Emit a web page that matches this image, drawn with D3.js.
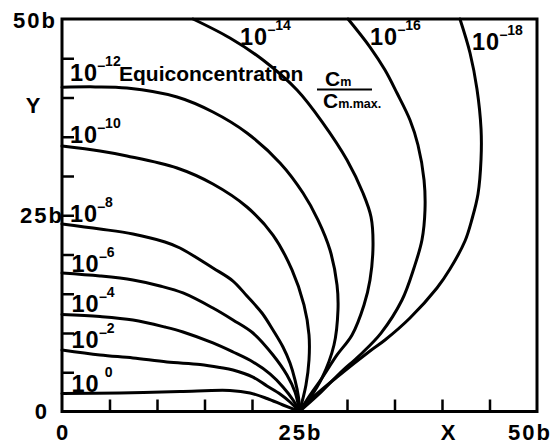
<!DOCTYPE html>
<html>
<head>
<meta charset="utf-8">
<script src="https://cdn.jsdelivr.net/npm/d3@7"></script>
<style>
  html, body { margin: 0; padding: 0; background: #fff; }
  svg { display: block; }
  text { font-family: "Liberation Sans", Arial, Helvetica, sans-serif; font-weight: bold; fill: #000; }
</style>
</head>
<body>
<svg id="chart" width="552" height="445"></svg>
<script>
// Equiconcentration lines Cm / Cm.max around a point source at (25b, 0).
// Coordinates are given in units of b: [X, Y].
const iso0   = [[0,2.29],[6.1,2.36],[12.42,2.55],[17.68,2.68],[19.79,2.36],[21.58,1.66],[23.26,0.83],[25,0]];
const isoM2  = [[0,7.83],[4.0,7.2],[7.47,6.82],[11.05,6.31],[14.53,5.99],[16.63,5.61],[18.0,5.29],[20.1,4.39],[21.58,3.25],[22.95,2.23],[24.0,1.21],[25,0]];
const isoM4  = [[0,12.36],[4.0,12.1],[7.47,11.66],[10.84,10.76],[12.74,10.13],[15.89,8.73],[18.0,7.58],[20.1,6.31],[21.89,4.78],[23.26,3.12],[24.32,1.46],[25,0]];
const isoM6  = [[0,17.64],[4.0,17.26],[7.47,16.75],[10.32,15.99],[12.74,15.1],[15.89,13.18],[18.0,11.66],[20.1,10.0],[22.21,7.2],[23.68,4.65],[24.53,2.48],[25,0]];
const isoM8  = [[0,23.89],[4.0,23.25],[7.47,22.61],[10.84,21.59],[12.42,20.83],[15.89,18.28],[18.0,16.62],[19.47,14.71],[21.05,12.55],[22.21,10.38],[23.26,8.22],[24.0,6.18],[24.53,4.01],[24.89,1.85],[25,0]];
const isoM10 = [[0,33.82],[4.0,33.18],[6.84,32.55],[12.11,31.02],[15.89,28.98],[19.47,26.05],[22.21,22.48],[24.21,18.03],[25.47,13.57],[26.0,9.75],[26.0,6.56],[25.68,3.38],[25,0]];
const isoM12 = [[0,41.3],[3.5,41.35],[6.84,41.2],[12.11,40.06],[15.89,38.15],[19.47,35.48],[22.95,31.66],[25.37,27.83],[26.95,24.39],[28.21,20.57],[28.95,16.11],[29.05,12.93],[28.63,8.47],[27.37,4.27],[26.11,1.72],[25,0]];
const isoM14 = [[13.79,50],[17.68,47.58],[21.16,44.78],[24.74,40.96],[27.47,36.75],[30.0,32.04],[31.68,27.83],[32.53,24.78],[32.74,21.21],[32.42,16.75],[31.79,13.57],[30.53,9.75],[28.95,7.2],[27.37,4.27],[26.11,2.1],[25,0]];
const isoM16 = [[30.11,50],[32.42,46.43],[34.0,43.5],[35.26,40.57],[36.63,37.13],[37.47,33.95],[38.11,29.49],[38.21,25.67],[37.89,21.85],[37.05,18.28],[35.79,14.2],[33.58,9.99],[31.37,7.2],[29.26,4.9],[26.95,2.1],[25,0]];
const isoM18 = [[41.89,50],[42.95,45.67],[43.68,41.08],[44.11,35.99],[44.11,32.17],[43.79,27.71],[43.16,24.52],[42.42,21.72],[40.84,18.15],[39.47,15.73],[36.63,11.91],[34.0,9.11],[32.42,7.71],[28.95,4.39],[26.11,1.46],[25,0]];

// Exponent of each line (value = 10^exponent)
const exponents = ["0", "−2", "−4", "−6", "−8", "−10", "−12", "−14", "−16", "−18"];
const isolines  = [iso0, isoM2, isoM4, isoM6, isoM8, isoM10, isoM12, isoM14, isoM16, isoM18];

// Axis ticks and labels
const xTicks = [5, 10, 15, 20, 30, 35, 40, 45];
const yTicks = [5, 10, 15, 20, 25, 30, 35, 40, 45];
const xTickLabels = ["0", "25b", "50b"];
const xTickValues = [0, 25, 50];
const yTickLabels = ["0", "25b", "50b"];
const yTickValues = [0, 25, 50];

// Where each "10^n" label sits (X, Y of the text baseline start, in b)
const labelAnchors = [[1.0,2.5],[1.0,8.1],[1.0,12.7],[1.0,17.8],[0.84,24.1],[0.84,34.2],[0.84,42.1],[18.74,46.7],[32.42,46.7],[43.16,46.05]];

const svg = d3.select("#chart");
const x = d3.scaleLinear().domain([0, 50]).range([62, 537]);
const y = d3.scaleLinear().domain([0, 50]).range([411.5, 19]);

// Contour lines
const line = d3.line()
  .x(d => x(d[0]))
  .y(d => y(d[1]))
  .curve(d3.curveCatmullRom.alpha(0.5));

svg.append("g")
  .selectAll("path")
  .data(isolines)
  .join("path")
  .attr("d", line)
  .attr("fill", "none")
  .attr("stroke", "#000")
  .attr("stroke-width", 3)
  .attr("stroke-linecap", "round")
  .attr("stroke-linejoin", "round");

// Inward ticks
const gx = svg.append("g")
  .attr("transform", `translate(0,${y(0)})`)
  .call(d3.axisBottom(x).tickValues(xTicks).tickSize(-12).tickFormat(""));
const gy = svg.append("g")
  .attr("transform", `translate(${x(0)},0)`)
  .call(d3.axisLeft(y).tickValues(yTicks).tickSize(-12).tickFormat(""));
[gx, gy].forEach(g => {
  g.select(".domain").remove();
  g.selectAll(".tick line").attr("stroke", "#000").attr("stroke-width", 2.5);
});

// Frame
svg.append("rect")
  .attr("x", x(0)).attr("y", y(50))
  .attr("width", x(50) - x(0)).attr("height", y(0) - y(50))
  .attr("fill", "none").attr("stroke", "#000").attr("stroke-width", 3);

// Axis labels
const axisSize = 22, axisSpacing = 2;
// bottom: centred under the tick value, last one kept inside the page
const xLabelShift = [0, 0, -8];
svg.append("g").selectAll("text")
  .data(xTickValues)
  .join("text")
  .attr("x", (d, i) => x(d) + xLabelShift[i] + axisSpacing / 2)
  .attr("y", 440)
  .attr("text-anchor", "middle")
  .attr("font-size", axisSize)
  .attr("letter-spacing", axisSpacing)
  .text((d, i) => xTickLabels[i]);
svg.append("text").attr("x", 448).attr("y", 440).attr("text-anchor", "middle")
  .attr("font-size", axisSize).text("X");

// left: right-aligned against the frame
const yLabelRight = [49, 64, 57];
const yLabelDrop = [7, 8, 9];
svg.append("g").selectAll("text")
  .data(yTickValues)
  .join("text")
  .attr("x", (d, i) => yLabelRight[i])
  .attr("y", (d, i) => y(d) + yLabelDrop[i])
  .attr("text-anchor", "end")
  .attr("font-size", axisSize)
  .attr("letter-spacing", axisSpacing)
  .text((d, i) => yTickLabels[i]);
svg.append("text").attr("x", 33).attr("y", 113).attr("text-anchor", "middle")
  .attr("font-size", axisSize).text("Y");

// "10^n" labels
const labels = svg.append("g");
exponents.forEach((e, i) => {
  const bx = x(labelAnchors[i][0]);
  const by = y(labelAnchors[i][1]);
  const base = labels.append("text")
    .attr("x", bx).attr("y", by)
    .attr("font-size", 23.5).attr("letter-spacing", 1)
    .text("10");
  const w = base.node().getComputedTextLength();
  let sx = bx + w;
  if (e.startsWith("−")) {
    labels.append("text").attr("x", sx - 1).attr("y", by - 10)
      .attr("font-size", 14).text("−");
    sx += 7;
  } else {
    sx += 5;
  }
  labels.append("text").attr("x", sx).attr("y", by - 15)
    .attr("font-size", 14).text(e.replace("−", ""));
});

// Legend title with the concentration ratio
svg.append("text").attr("x", 119).attr("y", 81)
  .attr("font-size", 21).text("Equiconcentration");
svg.append("text").attr("x", 325).attr("y", 86).attr("font-size", 21)
  .text("C").append("tspan").attr("font-size", 12.5).text("m");
svg.append("line").attr("x1", 317).attr("x2", 372).attr("y1", 89.5).attr("y2", 89.5)
  .attr("stroke", "#000").attr("stroke-width", 2);
svg.append("text").attr("x", 323).attr("y", 108).attr("font-size", 21)
  .text("C").append("tspan").attr("font-size", 12.5).text("m.max.");
</script>
</body>
</html>
